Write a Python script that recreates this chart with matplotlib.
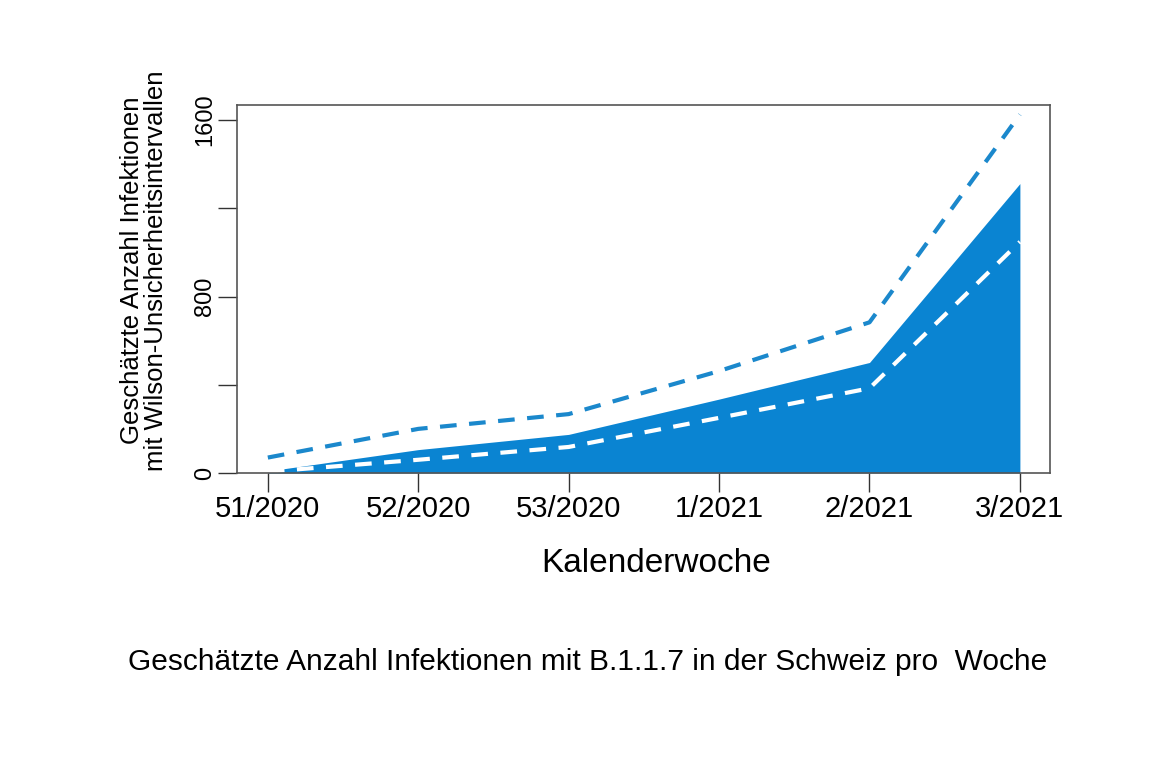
import matplotlib
matplotlib.use("Agg")
import matplotlib.pyplot as plt
import numpy as np

# Kalenderwochen und geschätzte Werte
wochen = ['51/2020', '52/2020', '53/2020', '1/2021', '2/2021', '3/2021']
schaetzung = [9, 106, 175, 335, 501, 1312]
obere_grenze = [70, 200, 267, 462, 683, 1625]
untere_grenze = [6, 60, 118, 250, 384, 1048]
y_ticks = [0, 400, 800, 1200, 1600]
y_ticklabels = ['0', '', '800', '', '1600']

plt.rcParams['font.family'] = ['Liberation Sans', 'DejaVu Sans']

fig = plt.figure(figsize=(11.75, 7.65), dpi=100)
ax = fig.add_axes([0.2017, 0.3817, 0.6919, 0.481])

x = np.arange(len(wochen))
blau = '#0a84d2'
ax.fill_between(x, 0, schaetzung, color=blau, linewidth=0)
ax.plot(x, obere_grenze, color='#1b88cc', linestyle=(0, (4, 3)), linewidth=3)
ax.plot(x, untere_grenze, color='white', linestyle=(0, (4, 3)), linewidth=3)

ax.set_xlim(-0.205, 5.2)
ax.set_ylim(0, 1668)

ax.set_xticks(x)
ax.set_xticklabels(wochen, fontsize=21)
ax.set_yticks(y_ticks)
ax.set_yticklabels(y_ticklabels, fontsize=17, rotation=90, va='center')
ax.tick_params(axis='both', direction='out', length=14, width=1, colors='#333333',
               labelcolor='black')
ax.tick_params(axis='x', pad=2)
ax.tick_params(axis='y', pad=1)
for s in ax.spines.values():
    s.set_color('#555555')
    s.set_linewidth(1.2)

ax.set_xlabel('Kalenderwoche', fontsize=24)
ax.xaxis.set_label_coords(0.516, -0.205)
ax.set_ylabel('Geschätzte Anzahl Infektionen\nmit Wilson-Unsicherheitsintervallen',
              fontsize=18.5, linespacing=1.0)
ax.yaxis.set_label_coords(-0.085, 0.55)

fig.text(0.5, 0.134, 'Geschätzte Anzahl Infektionen mit B.1.1.7 in der Schweiz pro  Woche',
         ha='center', va='center', fontsize=21.5)

fig.savefig('out.png', dpi=100)
